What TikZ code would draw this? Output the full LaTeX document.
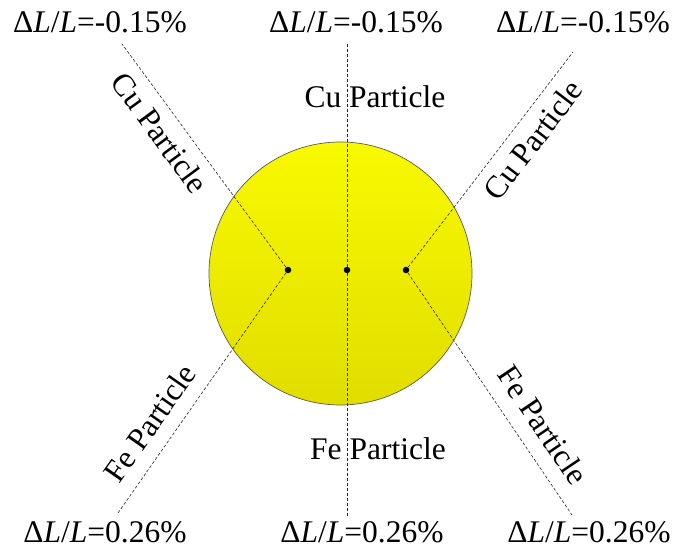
\documentclass[tikz,border=0pt]{standalone}
\usepackage{fontspec}
\setmainfont{Liberation Serif}
\definecolor{ptop}{RGB}{249,249,0}
\definecolor{pbot}{RGB}{225,221,0}
\newcommand{\dLL}{\symbol{"0394}\textit{L}/\textit{L}=}
\begin{document}
\begin{tikzpicture}[x=1pt, y=1pt,
        lbl/.style={font=\fontsize{31.5}{36}\selectfont, inner sep=0pt},
        guide/.style={dash pattern=on 3pt off 2pt, line width=0.6pt, black!85},
        dot/.style={circle, fill=black, inner sep=0pt, minimum size=6.5pt}]
        \useasboundingbox (0,0) rectangle (675,551);

        % Particle
        \shade[top color=ptop, bottom color=pbot, draw=black!65, line width=0.7pt] (340.5,277.5) circle (131.5);

        % Measuring points
        \node[dot] (left) at (288,281) {};
        \node[dot] (mid) at (347,281) {};
        \node[dot] (right) at (406,281) {};

        % Free ends of the guide lines
        \coordinate (ul) at (122,507);
        \coordinate (um) at (347,508);
        \coordinate (ur) at (573,499);
        \coordinate (ll) at (118,38);
        \coordinate (lm) at (347,34);
        \coordinate (lr) at (572,36);

        \draw[guide] (left) -- (ul);
        \draw[guide] (mid) -- (um);
        \draw[guide] (right) -- (ur);
        \draw[guide] (left) -- (ll);
        \draw[guide] (mid) -- (lm);
        \draw[guide] (right) -- (lr);

        % Particle labels
        \node[lbl, rotate=-53.7] (cuL) at (160,418) {Cu Particle};
        \node[lbl] (cuM) at (375,454) {Cu Particle};
        \node[lbl, rotate=52.5] (cuR) at (533,411) {Cu Particle};
        \node[lbl, rotate=55] (feL) at (150,128) {Fe Particle};
        \node[lbl] (feM) at (378,102) {Fe Particle};
        \node[lbl, rotate=-56] (feR) at (543,126) {Fe Particle};

        % Strain values
        \node[lbl, anchor=base] (sUL) at (100,518) {\dLL-0.15\%};
        \node[lbl, anchor=base] (sUM) at (356,518) {\dLL-0.15\%};
        \node[lbl, anchor=base] (sUR) at (583,518) {\dLL-0.15\%};
        \node[lbl, anchor=base] (sLL) at (105,8) {\dLL0.26\%};
        \node[lbl, anchor=base] (sLM) at (362,8) {\dLL0.26\%};
        \node[lbl, anchor=base] (sLR) at (589,8) {\dLL0.26\%};
\end{tikzpicture}
\end{document}
